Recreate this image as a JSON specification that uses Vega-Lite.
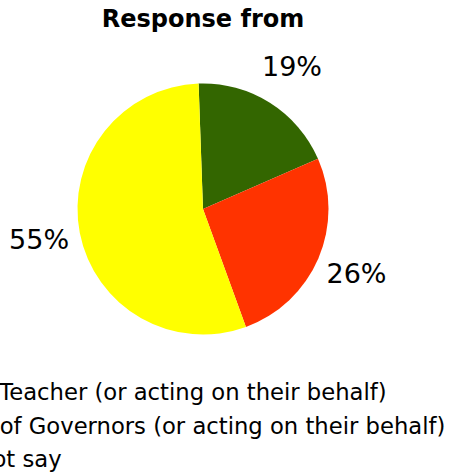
{
  "$schema": "https://vega.github.io/schema/vega-lite/v6.json",
  "width": 406,
  "height": 340,
  "autosize": {"type": "none"},
  "padding": {"left": 0, "top": 39, "right": 44, "bottom": 95},
  "background": "white",
  "title": {
    "text": "Response from",
    "anchor": "middle",
    "frame": "group",
    "font": "DejaVu Sans",
    "fontSize": 24,
    "fontWeight": "bold",
    "color": "black",
    "offset": 7
  },
  "data": {
    "values": [
      {"group": "Did not say", "pct": 19, "label": "19%", "ord": 1},
      {"group": "Chair of Governors (or acting on their behalf)", "pct": 26, "label": "26%", "ord": 2},
      {"group": "Head Teacher (or acting on their behalf)", "pct": 55, "label": "55%", "ord": 3}
    ]
  },
  "encoding": {
    "theta": {"field": "pct", "type": "quantitative", "stack": true, "scale": {"range": [-0.035, 6.248]}},
    "order": {"field": "ord", "type": "quantitative"}
  },
  "layer": [
    {
      "mark": {"type": "arc", "outerRadius": 125.5},
      "encoding": {
        "color": {
          "field": "group",
          "type": "nominal",
          "scale": {
            "domain": ["Head Teacher (or acting on their behalf)", "Chair of Governors (or acting on their behalf)", "Did not say"],
            "range": ["#FFFF00", "#FF3300", "#336600"]
          },
          "legend": {
            "title": null,
            "orient": "none",
            "legendX": -94,
            "legendY": 343,
            "labelFont": "DejaVu Sans",
            "labelFontSize": 22.7,
            "labelColor": "black",
            "labelLimit": 1000,
            "symbolType": "square",
            "symbolSize": 100,
            "symbolStrokeWidth": 0,
            "labelOffset": 4,
            "rowPadding": 9.3,
            "padding": 0
          }
        }
      }
    },
    {
      "mark": {"type": "text", "radius": 167, "font": "DejaVu Sans", "fontSize": 27, "color": "black", "align": "center", "baseline": "middle"},
      "encoding": {
        "text": {"field": "label", "type": "nominal"}
      }
    }
  ]
}
